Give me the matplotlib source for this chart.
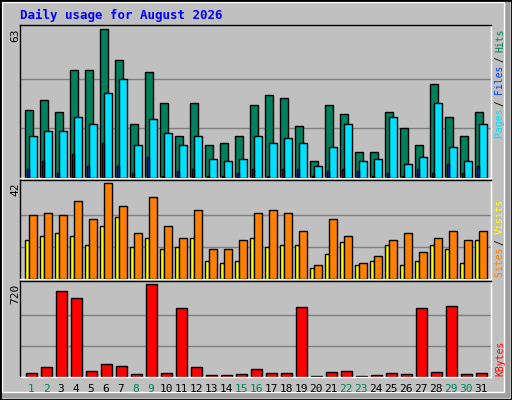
import matplotlib
matplotlib.use("Agg")
import matplotlib.pyplot as plt
from matplotlib.patches import Rectangle

days = list(range(1, 32))
weekend = [1, 2, 8, 9, 15, 16, 22, 23, 29, 30]

hits = [29, 33, 28, 46, 46, 63, 50, 23, 45, 32, 18, 32, 14, 15, 18, 31,
        35, 34, 22, 7, 31, 27, 11, 11, 28, 21, 14, 40, 26, 18, 28]
files = [18, 20, 20, 26, 23, 36, 42, 14, 25, 19, 14, 18, 8, 7, 8, 18,
         15, 17, 15, 5, 13, 23, 7, 8, 26, 6, 9, 32, 13, 7, 23]
pages = [4, 7, 2, 10, 5, 15, 5, 2, 9, 1, 3, 4, 1, 1, 2, 4,
         1, 4, 4, 1, 3, 4, 3, 1, 2, 1, 4, 2, 6, 2, 5]
visits = [28, 29, 28, 34, 26, 42, 32, 20, 36, 23, 18, 30, 13, 13, 17, 29,
          30, 29, 21, 6, 26, 19, 7, 10, 17, 20, 12, 18, 21, 17, 21]
sites = [17, 19, 20, 19, 15, 23, 27, 14, 18, 13, 14, 18, 8, 7, 8, 18,
         14, 15, 15, 5, 11, 16, 6, 8, 15, 6, 8, 15, 13, 7, 17]
kbytes = [34, 74, 665, 610, 50, 97, 82, 26, 720, 34, 531, 74, 18, 18, 26, 58,
          34, 34, 539, 10, 42, 50, 10, 18, 34, 26, 531, 42, 547, 26, 34]

GREEN = "#00805C"
CYAN = "#00E0FF"
BLUE = "#0040FF"
ORANGE = "#FF8000"
YELLOW = "#FFFF00"
RED = "#FF0000"
GREY = "#C0C0C0"
mono = "DejaVu Sans Mono"

W, H = 512, 400
SLOT = 15  # pixels per day
fig = plt.figure(figsize=(W / 100, H / 100), dpi=100, facecolor=GREY)

# bevelled frame
fig.patches.append(Rectangle(((W - 8) / W, 2 / H), 6 / W, (H - 4) / H,
                             transform=fig.transFigure, color="#A0A0A0", lw=0))
fig.patches.append(Rectangle((2 / W, 2 / H), (W - 4) / W, 6 / H,
                             transform=fig.transFigure, color="#A0A0A0", lw=0))
fig.patches.append(Rectangle((2 / W, 8 / H), (W - 10) / W, (H - 10) / H,
                             transform=fig.transFigure, fill=False, edgecolor="white", lw=1))
fig.patches.append(Rectangle((0, 0), 1, 1, transform=fig.transFigure, fill=False,
                             edgecolor="black", lw=2))


def panel(top, bottom):
    ax = fig.add_axes([20 / W, 1 - bottom / H, 471 / W, (bottom - top) / H])
    ax.set_facecolor(GREY)
    ax.set_xlim(0, 471 / SLOT)
    ax.set_xticks([])
    ax.set_yticks([])
    for s in ax.spines.values():
        s.set_color("black")
        s.set_linewidth(1)
    ax.spines["right"].set_color("white")
    ax.spines["bottom"].set_color("white")
    return ax


def grid(ax, vmax):
    ax.set_ylim(0, vmax * 1.03)
    for g in (vmax / 3, vmax * 2 / 3):
        ax.axhline(g, color="#808080", lw=1, zorder=0)


def bars(ax, vals, color, off, width, z=2):
    left = [d - 1 + off for d in days]
    ax.bar(left, vals, width=width, align="edge", color=color,
           edgecolor="black", lw=1, zorder=z)


fig.text(20 / W, 1 - 15 / H, "Daily usage for August 2026", color="#0000FF",
         family=mono, weight="bold", fontsize=9, va="center")

ax1 = panel(25, 178)
grid(ax1, max(hits))
bars(ax1, hits, GREEN, 0.36, 0.49)
bars(ax1, files, CYAN, 0.62, 0.49, 3)
bars(ax1, pages, BLUE, 0.44, 0.14, 4)

ax2 = panel(180, 279)
grid(ax2, max(visits))
bars(ax2, sites, YELLOW, 0.36, 0.27)
bars(ax2, visits, ORANGE, 0.62, 0.49, 3)

ax3 = panel(281, 377)
grid(ax3, max(kbytes))
bars(ax3, kbytes, RED, 0.4, 0.71)

for top, vmax in ((25, max(hits)), (180, max(visits)), (281, max(kbytes))):
    fig.text(15 / W, 1 - (top + 3) / H, str(vmax), rotation=90, ha="center", va="top",
             family=mono, fontsize=8)


# right-hand legends, reading bottom to top
def vlegend(parts, y_bottom):
    y = y_bottom
    for txt, col in parts:
        fig.text(500 / W, 1 - y / H, txt, rotation=90, ha="center", va="bottom",
                 color=col, family=mono, fontsize=7)
        y -= len(txt) * 5.4


vlegend([("Pages ", CYAN), ("/ ", "black"), ("Files ", BLUE), ("/ ", "black"), ("Hits", GREEN)], 138)
vlegend([("Sites ", ORANGE), ("/ ", "black"), ("Visits", YELLOW)], 277)
vlegend([("KBytes", RED)], 376)

for d in days:
    fig.text((20 + (d - 1) * SLOT + 11) / W, 1 - 389 / H, str(d), ha="center", va="center",
             family=mono, fontsize=8, color=GREEN if d in weekend else "black")

fig.savefig("out.png", dpi=100, facecolor=GREY)
